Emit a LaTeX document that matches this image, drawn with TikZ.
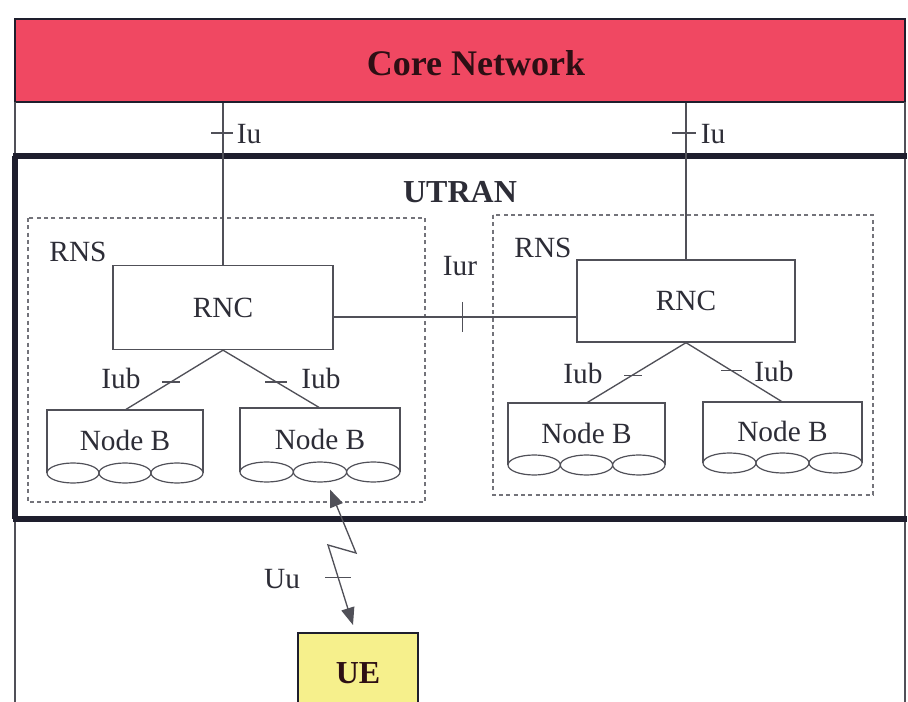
\documentclass[tikz,border=0pt]{standalone}
\usepackage{fontspec}
\setmainfont{Liberation Serif}
\usetikzlibrary{shapes.geometric,arrows.meta,calc}
\definecolor{corered}{RGB}{240,72,98}
\definecolor{uey}{RGB}{246,240,140}
\definecolor{ink}{RGB}{45,45,55}
\definecolor{linec}{RGB}{80,80,88}
\definecolor{dashc}{RGB}{115,115,122}
\definecolor{thickc}{RGB}{30,30,45}
\definecolor{coreink}{RGB}{45,15,20}
\newcommand{\NodeBunit}[5]{%
  \pgfmathsetmacro{\nbw}{(#3-#2)/3}
  \draw[conn] (#2,#5) -- (#2,#4) -- (#3,#4) -- (#3,#5);
  \coordinate (#1-top) at ({(#2+#3)/2},#4);
  \node[ell, minimum width={\nbw*0.75pt}] (#1-e1) at ({#2+\nbw/2},#5) {};
  \node[ell, minimum width={\nbw*0.75pt}] (#1-e2) at ({#2+1.5*\nbw},#5) {};
  \node[ell, minimum width={\nbw*0.75pt}] (#1-e3) at ({#2+2.5*\nbw},#5) {};
  \node[lbl] (#1) at ({(#2+#3)/2},{(#4+#5)/2-1}) {Node B};
}
\begin{document}
\begin{tikzpicture}[x=0.75pt,y=-0.75pt,
  lbl/.style={font=\fontsize{22}{26}\selectfont, text=ink, inner sep=0pt},
  blbl/.style={lbl, font=\fontsize{24}{28}\selectfont\bfseries},
  rncbox/.style={draw=linec, line width=1pt, fill=white, minimum width=165pt, minimum height=63pt, lbl},
  conn/.style={draw=linec, line width=1pt},
  tickmark/.style={draw=linec, line width=1pt},
  rnsbox/.style={draw=dashc, line width=0.9pt, dash pattern=on 3pt off 2.5pt},
  ell/.style={ellipse, draw=linec, line width=0.9pt, fill=white, minimum height=15pt, inner sep=0pt},
  outerframe/.style={draw=linec, line width=1.5pt},
  heavyline/.style={draw=thickc, line width=4pt},
  uutips/.style={{Triangle[length=13pt,width=10pt]}-{Triangle[length=13pt,width=10pt]}},
]
\useasboundingbox (0,0) rectangle (908,702);
\fill[white] (0,0) rectangle (908,702);

% Core network
\node[draw=thickc, line width=1.5pt, fill=corered, minimum width=667.5pt, minimum height=62.25pt, inner sep=0pt] (core) at (460,60.5) {};
\node[font=\fontsize{27}{30}\selectfont\bfseries, text=coreink, inner sep=0pt] (coretxt) at (476,63) {Core Network};

% outer frame
\draw[outerframe] (15,102) -- (15,702);
\draw[outerframe] (905,102) -- (905,702);

% UTRAN
\draw[heavyline] (13,156) -- (907,156);
\draw[heavyline] (13,519) -- (907,519);
\draw[heavyline] (15,156) -- (15,519);
\node[blbl] (utran) at (460,192) {UTRAN};

% RNS boxes
\draw[rnsbox] (28,218) rectangle (425,502);
\draw[rnsbox] (493,215) rectangle (873,495);
\node[lbl] (rnsL) at (78,252) {RNS};
\node[lbl] (rnsR) at (543,248) {RNS};

% RNCs
\node[rncbox] (rncL) at (223,307.5) {RNC};
\node[rncbox, minimum width=163.5pt, minimum height=61.5pt] (rncR) at (686,301) {RNC};

% Iu
\coordinate (iuy) at (0,133);
\draw[conn] (rncL.north) -- (rncL.north |- core.south);
\draw[conn] (rncR.north) -- (rncR.north |- core.south);
\draw[tickmark] ($(rncL.north |- iuy)+(-12,0)$) -- ++(22,0);
\draw[tickmark] ($(rncR.north |- iuy)+(-14,0)$) -- ++(24,0);
\node[lbl] (iuL) at (249,134) {Iu};
\node[lbl] (iuR) at (713,134) {Iu};

% Iur
\coordinate (iury) at (0,317);
\draw[conn] (rncL.east |- iury) -- coordinate[pos=0.53] (iurt) (rncR.west |- iury);
\draw[tickmark] ($(iurt)+(0,-15)$) -- ++(0,30);
\node[lbl] (iur) at (460,266) {Iur};

% Node Bs
\NodeBunit{nb1}{47}{203}{410}{473}
\NodeBunit{nb2}{240}{400}{408}{472}
\NodeBunit{nb3}{508}{665}{403}{465}
\NodeBunit{nb4}{703}{862}{402}{463}

% Iub
\draw[conn] (rncL.south) -- coordinate[pos=0.53] (t1) (nb1-top);
\draw[conn] (rncL.south) -- coordinate[pos=0.55] (t2) (nb2-top);
\draw[conn] (rncR.south) -- coordinate[pos=0.54] (t3) (nb3-top);
\draw[conn] (rncR.south) -- coordinate[pos=0.47] (t4) (nb4-top);
\draw[tickmark] ($(t1)+(-9,0)$) -- ++(18,0);
\draw[tickmark] ($(t2)+(-11,0)$) -- ++(22,0);
\draw[tickmark] ($(t3)+(-8,0)$) -- ++(18,0);
\draw[tickmark] ($(t4)+(-10,0)$) -- ++(21,0);
\node[lbl] (iub1) at (121,378) {Iub};
\node[lbl] (iub2) at (321,378) {Iub};
\node[lbl] (iub3) at (583,373) {Iub};
\node[lbl] (iub4) at (774,371) {Iub};

% UE
\node[draw=thickc, line width=1.3pt, fill=uey, minimum width=90pt, minimum height=60pt, anchor=north, inner sep=0pt, font=\fontsize{24}{28}\selectfont\bfseries, text=coreink] (ue) at (358,632) {UE};

% Uu
\draw[conn, uutips] ($(nb2-e2.south)+(10,7)$) -- (356,553) -- (328,545) -- coordinate[pos=0.41] (uut) ($(ue.north)+(-5,-7)$);
\draw[tickmark] ($(uut)+(-13,0)$) -- ++(26,0);
\node[lbl] (uu) at (282,579) {Uu};
\end{tikzpicture}
\end{document}
